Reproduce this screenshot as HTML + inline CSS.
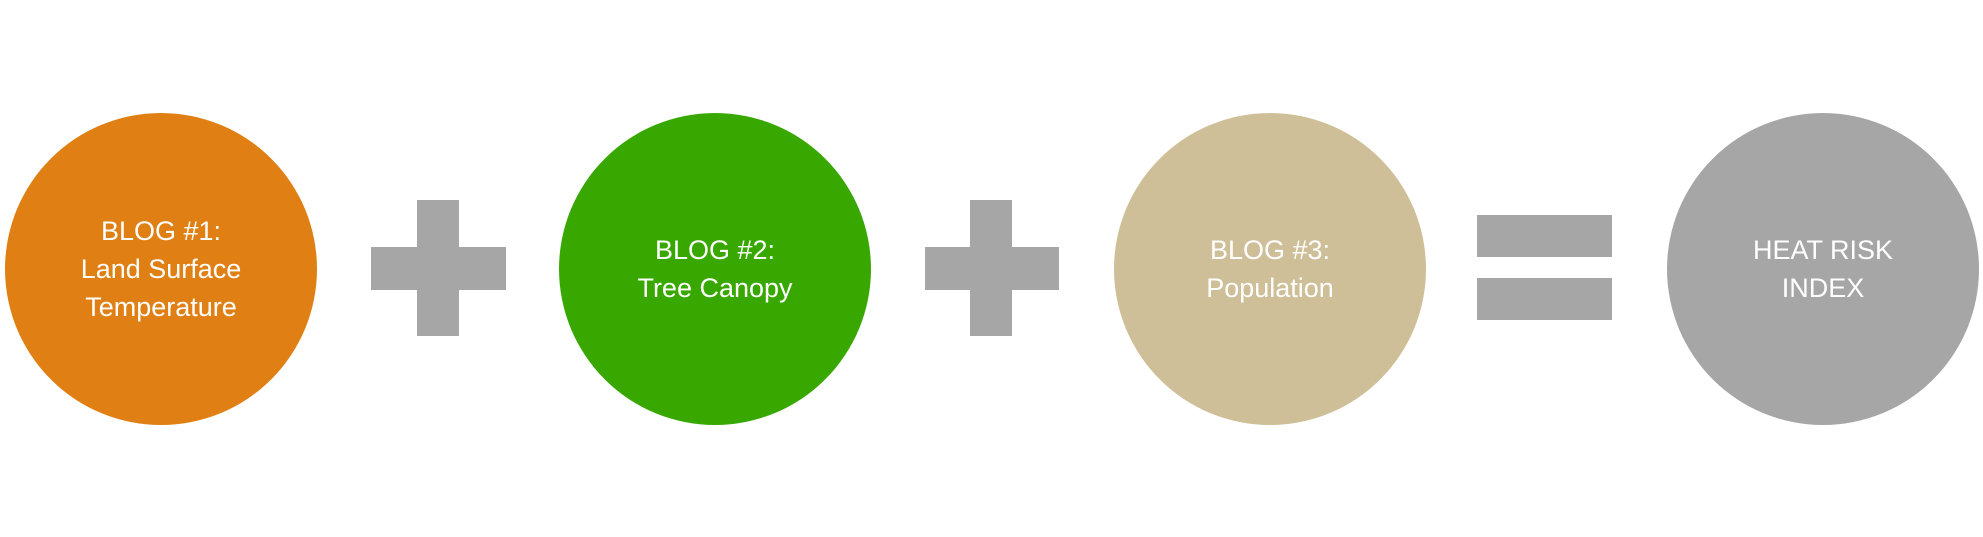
<!DOCTYPE html>
<html><head><meta charset="utf-8"><style>
html,body{margin:0;padding:0;background:#fff;}
body{width:1983px;height:537px;position:relative;overflow:hidden;font-family:"Liberation Sans",sans-serif;}
.c{position:absolute;width:312px;height:312px;border-radius:50%;top:113px;display:flex;align-items:center;justify-content:center;text-align:center;color:#fff;font-size:27px;line-height:38px;}
.b{position:absolute;background:#a6a6a6;}
</style></head><body>
<div class="c" style="left:5px;background:#e07f13;"><div>BLOG #1:<br>Land Surface<br>Temperature</div></div>
<div class="c" style="left:559px;background:#38a800;"><div>BLOG #2:<br>Tree Canopy</div></div>
<div class="c" style="left:1114px;background:#cfbf99;"><div>BLOG #3:<br>Population</div></div>
<div class="c" style="left:1667px;background:#a6a6a6;"><div>HEAT RISK<br>INDEX</div></div>
<div class="b" style="left:417px;top:200px;width:42px;height:136px;"></div>
<div class="b" style="left:371px;top:247px;width:135px;height:43px;"></div>
<div class="b" style="left:970px;top:200px;width:42px;height:136px;"></div>
<div class="b" style="left:925px;top:247px;width:134px;height:43px;"></div>
<div class="b" style="left:1477px;top:215px;width:135px;height:42px;"></div>
<div class="b" style="left:1477px;top:278px;width:135px;height:42px;"></div>
</body></html>
